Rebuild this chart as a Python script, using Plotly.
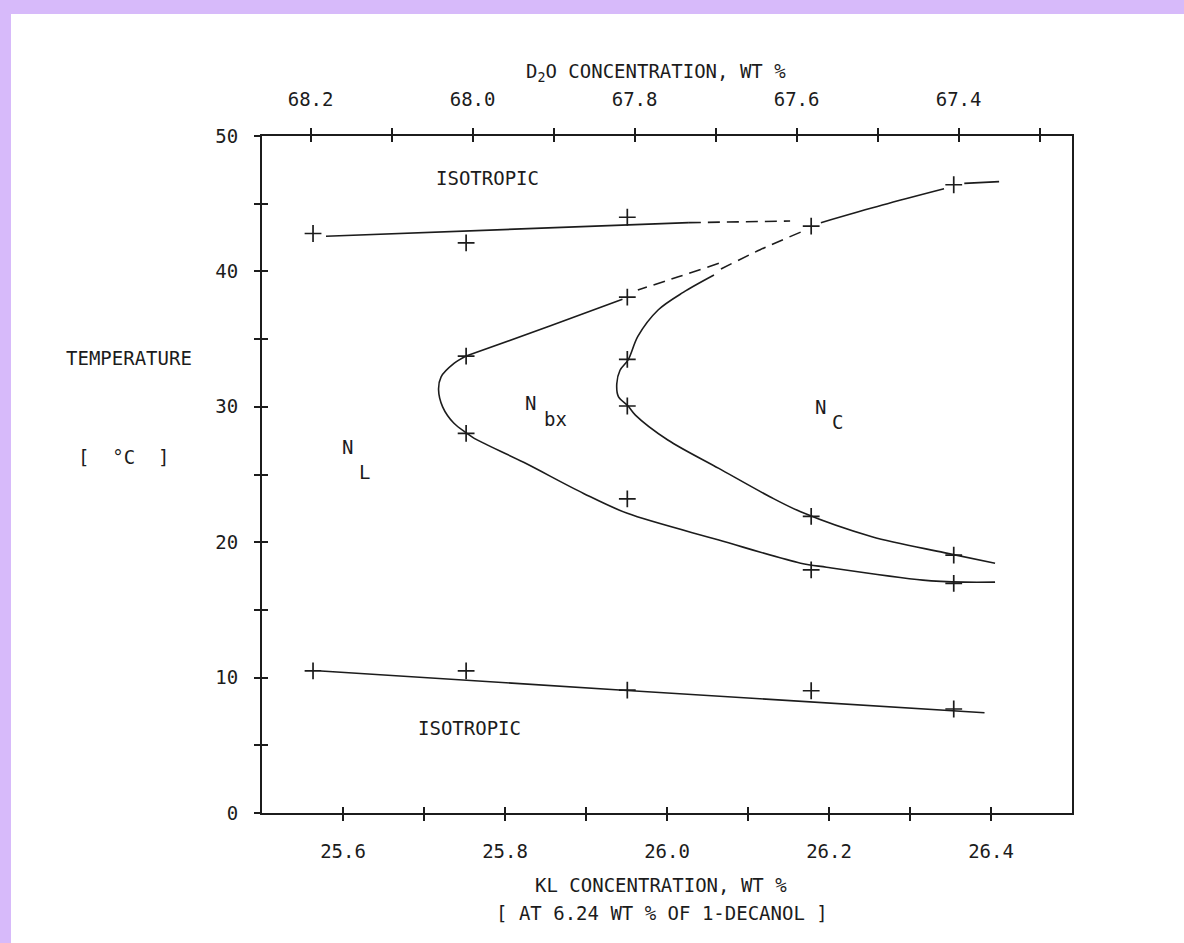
import plotly.graph_objects as go

# ---------------- data ----------------
DECANOL_WT = 6.24                       # wt % of 1-decanol (fixed)
KL_RANGE = [25.5, 26.5]                 # KL concentration, wt %
T_RANGE = [0, 50]                       # temperature, deg C

KL_TICKS = [25.6, 25.8, 26.0, 26.2, 26.4]
KL_TICKTEXT = ["25.6", "25.8", "26.0", "26.2", "26.4"]
KL_MINOR = [25.7, 25.9, 26.1, 26.3]
D2O_TICKS = [68.2, 68.0, 67.8, 67.6, 67.4]
D2O_TICKTEXT = ["68.2", "68.0", "67.8", "67.6", "67.4"]
D2O_MINOR = [68.1, 67.9, 67.7, 67.5, 67.3]
T_TICKS = [0, 10, 20, 30, 40, 50]
T_TICKTEXT = ["0", "10", "20", "30", "40", "50"]
T_MINOR = [5, 15, 25, 35, 45]

# measured transition points (KL wt %, T deg C)
PTS_ISO_UP_KL = [25.563, 25.752, 25.951, 26.178, 26.354]
PTS_ISO_UP_T = [42.8, 42.1, 44.0, 43.35, 46.4]
PTS_NBX_UP_KL = [25.752, 25.951]
PTS_NBX_UP_T = [33.75, 38.1]
PTS_NC_KL = [25.951, 25.951, 26.178, 26.354]
PTS_NC_T = [33.5, 30.06, 21.9, 19.05]
PTS_NBX_LOW_KL = [25.752, 25.951, 26.178, 26.354]
PTS_NBX_LOW_T = [28.04, 23.2, 17.95, 16.96]
PTS_ISO_LOW_KL = [25.563, 25.752, 25.951, 26.178, 26.354]
PTS_ISO_LOW_T = [10.5, 10.5, 9.08, 9.03, 7.68]

# phase-boundary curves as drawn
ISO_UP_SOLID_KL = [25.579, 26.027]
ISO_UP_SOLID_T = [42.6, 43.6]
ISO_UP_DASH_KL = [26.027, 26.152]
ISO_UP_DASH_T = [43.6, 43.72]

NC_TOP_KL = [26.19, 26.266, 26.342]
NC_TOP_T = [43.6, 44.9, 46.1]
NC_TOP_END_KL = [26.367, 26.41]
NC_TOP_END_T = [46.5, 46.63]
NC_DASH_KL = [26.165, 26.115, 26.064]
NC_DASH_T = [42.9, 41.6, 40.1]
NC_SOLID_KL = [26.058, 26.02, 25.989, 25.964, 25.952, 25.942, 25.938, 25.940,
               25.952, 25.961, 26.001, 26.064, 26.127, 26.165, 26.253, 26.342, 26.405]
NC_SOLID_T = [39.73, 38.45, 37.15, 35.2, 33.46, 32.7, 31.7, 30.75,
              30.06, 29.39, 27.55, 25.45, 23.36, 22.25, 20.41, 19.23, 18.44]

NBX_DASH_KL = [26.064, 26.014, 25.964]
NBX_DASH_T = [40.6, 39.6, 38.63]
NBX_UP_KL = [25.945, 25.857, 25.752]
NBX_UP_T = [37.94, 36.0, 33.75]
NBX_LOW_KL = [25.752, 25.737, 25.721, 25.718, 25.723, 25.737, 25.753, 25.762,
              25.823, 25.897, 25.951, 26.064, 26.165, 26.197, 26.316, 26.367, 26.405]
NBX_LOW_T = [33.75, 33.2, 32.2, 31.24, 30.0, 28.78, 28.04, 27.67,
             25.9, 23.6, 22.13, 20.16, 18.45, 18.15, 17.2, 17.05, 17.05]

ISO_LOW_KL = [25.573, 25.951, 26.392]
ISO_LOW_T = [10.49, 9.05, 7.4]

# ---------------- styling ----------------
INK = "#1c1c1c"
FONT = "DejaVu Sans Mono, Liberation Mono, monospace"
FS = 19
LAVENDER = "#d7bafa"
W, H = 1184, 943
ML, MR, MT, MB = 262, 112, 136, 130
PW, PH = W - ML - MR, H - MT - MB

D2O_RANGE = [100 - DECANOL_WT - KL_RANGE[0], 100 - DECANOL_WT - KL_RANGE[1]]

fig = go.Figure()


def add_line(kl, t, dash="solid"):
    fig.add_trace(go.Scatter(
        x=kl, y=t, mode="lines", hoverinfo="skip", showlegend=False,
        line=dict(color=INK, width=1.6, dash=dash, shape="spline", smoothing=0.9)))


def add_pts(kl, t):
    fig.add_trace(go.Scatter(
        x=kl, y=t, mode="markers", hoverinfo="skip", showlegend=False,
        marker=dict(symbol="cross-thin", size=12, color=INK,
                    line=dict(width=1.7, color=INK))))


DASH = "12px,7px"
add_line(ISO_UP_SOLID_KL, ISO_UP_SOLID_T)
add_line(ISO_UP_DASH_KL, ISO_UP_DASH_T, DASH)
add_line(NC_TOP_KL, NC_TOP_T)
add_line(NC_TOP_END_KL, NC_TOP_END_T)
add_line(NC_DASH_KL, NC_DASH_T, DASH)
add_line(NC_SOLID_KL, NC_SOLID_T)
add_line(NBX_DASH_KL, NBX_DASH_T, DASH)
add_line(NBX_UP_KL, NBX_UP_T)
add_line(NBX_LOW_KL, NBX_LOW_T)
add_line(ISO_LOW_KL, ISO_LOW_T)

add_pts(PTS_ISO_UP_KL, PTS_ISO_UP_T)
add_pts(PTS_NBX_UP_KL, PTS_NBX_UP_T)
add_pts(PTS_NC_KL, PTS_NC_T)
add_pts(PTS_NBX_LOW_KL, PTS_NBX_LOW_T)
add_pts(PTS_ISO_LOW_KL, PTS_ISO_LOW_T)

# empty traces binding overlay axes (used for crossing tick marks)
for xa, ya in [("x2", "y"), ("x3", "y"), ("x4", "y"), ("x", "y2")]:
    fig.add_trace(go.Scatter(x=[], y=[], xaxis=xa, yaxis=ya, showlegend=False,
                             hoverinfo="skip"))

common = dict(showgrid=False, zeroline=False, tickcolor=INK, tickwidth=1.6,
              ticklen=6, tickfont=dict(family=FONT, size=FS, color=INK))


def minor(vals, side):
    return dict(tickmode="array", tickvals=vals, ticks=side, ticklen=6,
                tickwidth=1.6, tickcolor=INK, showgrid=False)


fig.update_layout(
    width=W, height=H,
    margin=dict(l=ML, r=MR, t=MT, b=MB, pad=0),
    paper_bgcolor="white", plot_bgcolor="white",
    font=dict(family=FONT, size=FS, color=INK),
    xaxis=dict(range=KL_RANGE, tickmode="array", tickvals=KL_TICKS,
               ticktext=KL_TICKTEXT, ticks="outside", showline=True,
               linecolor=INK, linewidth=2, mirror=False,
               minor=minor(KL_MINOR, "outside"),
               ticklabelstandoff=14, **common),
    xaxis3=dict(range=KL_RANGE, overlaying="x", side="bottom", anchor="y",
                tickmode="array", tickvals=KL_TICKS + KL_MINOR, ticks="inside",
                showticklabels=False, showline=False, **common),
    xaxis2=dict(range=D2O_RANGE, overlaying="x", side="top", anchor="y",
                tickmode="array", tickvals=D2O_TICKS, ticktext=D2O_TICKTEXT,
                ticks="outside", showline=True, linecolor=INK, linewidth=2,
                minor=minor(D2O_MINOR, "outside"),
                ticklabelstandoff=14, **common),
    xaxis4=dict(range=D2O_RANGE, overlaying="x", side="top", anchor="y",
                tickmode="array", tickvals=D2O_TICKS + D2O_MINOR, ticks="inside",
                showticklabels=False, showline=False, **common),
    yaxis=dict(range=T_RANGE, tickmode="array", tickvals=T_TICKS,
               ticktext=T_TICKTEXT, ticks="outside", showline=True,
               linecolor=INK, linewidth=2, mirror=True,
               minor=minor(T_MINOR, "outside"),
               ticklabelstandoff=12, **common),
    yaxis2=dict(range=T_RANGE, overlaying="y", side="left", anchor="x",
                tickmode="array", tickvals=T_TICKS + T_MINOR, ticks="inside",
                showticklabels=False, showline=False, **common),
)


def px_x(px):
    return (px - ML) / PW


def px_y(py):
    return (H - MB - py) / PH


# lavender frame of the scanned slide
fig.add_shape(type="rect", xref="paper", yref="paper", layer="below",
              x0=px_x(0), x1=px_x(11), y0=px_y(H), y1=px_y(0),
              fillcolor=LAVENDER, line=dict(width=0))
fig.add_shape(type="rect", xref="paper", yref="paper", layer="below",
              x0=px_x(0), x1=px_x(W), y0=px_y(14), y1=px_y(0),
              fillcolor=LAVENDER, line=dict(width=0))

ann_font = dict(family=FONT, size=FS, color=INK)
paper_labels = [
    ("D<sub>2</sub>O CONCENTRATION, WT %", 656, 72),
    ("KL CONCENTRATION, WT %", 661, 885),
    ("[ AT 6.24 WT % OF 1-DECANOL ]", 662, 913),
    ("TEMPERATURE", 129, 358),
    ("[&nbsp;&nbsp;°C&nbsp;&nbsp;]", 124, 457),
]
for txt, x, y in paper_labels:
    fig.add_annotation(text=txt, xref="paper", yref="paper", x=px_x(x), y=px_y(y),
                       showarrow=False, font=ann_font, xanchor="center",
                       yanchor="middle")

# region labels in data coordinates
REGION_TEXT = ["ISOTROPIC", "ISOTROPIC", "N", "L", "N", "bx", "N", "C"]
REGION_KL = [25.779, 25.756, 25.605, 25.627, 25.831, 25.862, 26.19, 26.21]
REGION_T = [46.9, 6.28, 27.0, 25.2, 30.25, 29.1, 30.0, 28.85]
for txt, x, y in zip(REGION_TEXT, REGION_KL, REGION_T):
    fig.add_annotation(text=txt, x=x, y=y, xref="x", yref="y", showarrow=False,
                       font=ann_font, xanchor="center", yanchor="middle")

fig.write_html(
    "out.html",
    config={"displayModeBar": False},
    post_script="document.body.style.margin='0';document.body.style.overflow='hidden';",
)
